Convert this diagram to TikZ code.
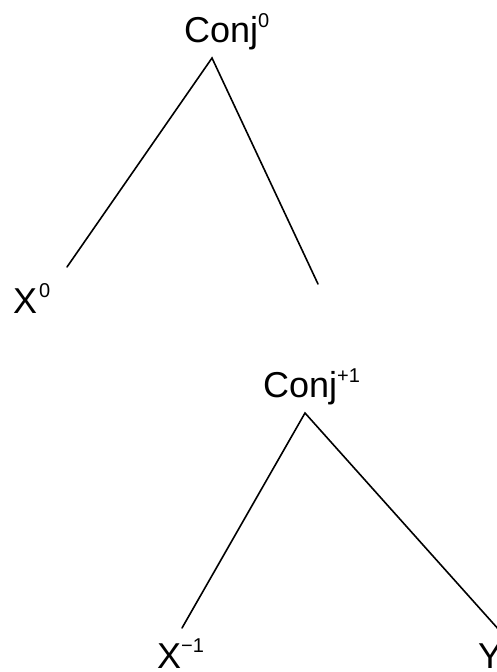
\documentclass[tikz,border=0pt]{standalone}
\usepackage{fontspec}
\setmainfont{Liberation Sans}
\usetikzlibrary{positioning}
\newcommand{\lvl}[2][15pt]{\raisebox{#1}{\fontsize{20}{20}\selectfont #2}}

\begin{document}
\begin{tikzpicture}[
    x=1pt, y=-1pt,
    every node/.style={font=\fontsize{36}{40}\selectfont, inner sep=0pt, anchor=base west},
    branch/.style={line width=1.6pt, line cap=round},
  ]
  \useasboundingbox (0,0) rectangle (497,672);

  % upper tree
  \node (conjA) at (184,42)  {Conj\lvl{0}};
  \node (xA)    at (13,313)  {X\kern2pt\lvl[16pt]{0}};
  \coordinate (topA)   at (212,58);
  \coordinate (leftA)  at (67,267);
  \coordinate (rightA) at (318,284);
  \draw[branch] (leftA) -- (topA) -- (rightA);

  % lower tree
  \node (conjB) at (263,397) {Conj\lvl{+1}};
  \node (xB)    at (157,668) {X\lvl[16pt]{−1}};
  \node (yB)    at (478,668) {Y};
  \coordinate (topB)   at (305,413);
  \coordinate (leftB)  at (182,628);
  \coordinate (rightB) at (500,631);
  \draw[branch] (leftB) -- (topB) -- (rightB);
\end{tikzpicture}
\end{document}
